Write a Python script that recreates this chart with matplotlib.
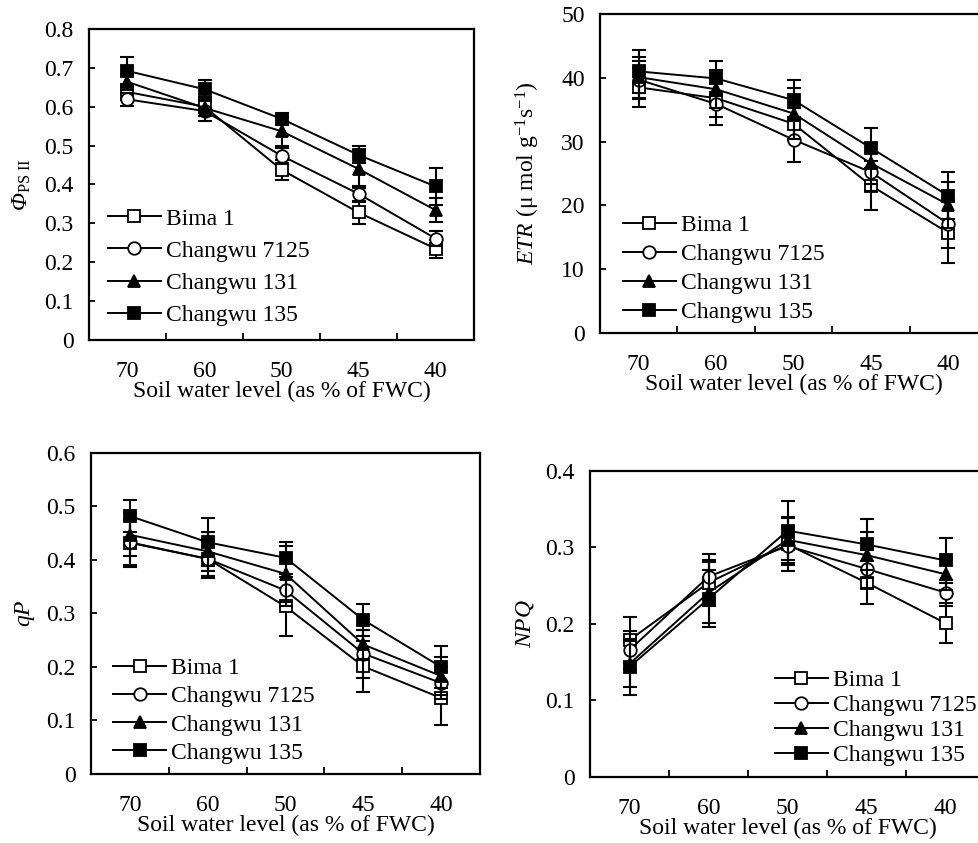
import matplotlib
matplotlib.use("Agg")
import matplotlib.pyplot as plt
from matplotlib.lines import Line2D

plt.rcParams["font.family"] = ["Liberation Serif", "DejaVu Serif"]
plt.rcParams["font.size"] = 17
# italic "rm" so the capital Phi comes out italic; "sf" used for upright sub/superscripts
plt.rcParams["mathtext.fontset"] = "custom"
plt.rcParams["mathtext.rm"] = "Liberation Serif:italic"
plt.rcParams["mathtext.it"] = "Liberation Serif:italic"
plt.rcParams["mathtext.sf"] = "Liberation Serif"

levels = ["70", "60", "50", "45", "40"]
varieties = ["Bima 1", "Changwu 7125", "Changwu 131", "Changwu 135"]
markers = ["s", "o", "^", "s"]
fills = ["white", "white", "black", "black"]

# Phi PSII
phi_vals = [
    [0.638, 0.600, 0.438, 0.328, 0.235],
    [0.619, 0.589, 0.474, 0.376, 0.261],
    [0.664, 0.597, 0.537, 0.440, 0.334],
    [0.692, 0.645, 0.569, 0.476, 0.395],
]
phi_err = [
    [0.020, 0.025, 0.026, 0.030, 0.023],
    [0.016, 0.025, 0.020, 0.020, 0.020],
    [0.020, 0.020, 0.037, 0.050, 0.030],
    [0.035, 0.025, 0.015, 0.022, 0.047],
]

# ETR
etr_vals = [
    [38.5, 36.8, 32.8, 23.1, 15.7],
    [39.7, 35.9, 30.3, 25.2, 17.1],
    [40.1, 38.2, 34.4, 26.6, 20.1],
    [41.0, 39.9, 36.5, 29.0, 21.5],
]
etr_err = [
    [3.1, 3.0, 2.5, 3.8, 4.8],
    [3.0, 3.3, 3.5, 3.0, 3.8],
    [3.2, 3.0, 4.0, 3.2, 3.6],
    [3.4, 2.8, 3.2, 3.1, 3.7],
]

# qP
qp_vals = [
    [0.432, 0.402, 0.313, 0.201, 0.142],
    [0.433, 0.402, 0.343, 0.225, 0.170],
    [0.447, 0.416, 0.374, 0.242, 0.183],
    [0.482, 0.433, 0.404, 0.288, 0.200],
]
qp_err = [
    [0.045, 0.035, 0.055, 0.048, 0.050],
    [0.042, 0.032, 0.030, 0.045, 0.030],
    [0.040, 0.036, 0.052, 0.028, 0.036],
    [0.030, 0.045, 0.030, 0.030, 0.040],
]

# NPQ
npq_vals = [
    [0.179, 0.254, 0.304, 0.254, 0.201],
    [0.166, 0.262, 0.302, 0.272, 0.241],
    [0.148, 0.241, 0.310, 0.290, 0.265],
    [0.144, 0.233, 0.322, 0.304, 0.283],
]
npq_err = [
    [0.030, 0.030, 0.035, 0.028, 0.026],
    [0.025, 0.030, 0.025, 0.025, 0.017],
    [0.030, 0.040, 0.030, 0.030, 0.020],
    [0.037, 0.037, 0.039, 0.033, 0.029],
]

panels = [
    dict(vals=phi_vals, err=phi_err, ymax=0.8, step=0.1, fmt="{:.1f}",
         ylabel=r"$\Phi_{\mathsf{PS\ II}}$",
         pos=[0.0909, 0.5967, 0.3933, 0.3689], lab_x=-0.145,
         leg=(0.049, 0.045), lsp=0.45),
    dict(vals=etr_vals, err=etr_err, ymax=50, step=10, fmt="{:.0f}",
         ylabel=r"$\mathit{ETR}$ (μ mol g$^{\mathsf{-1}}$s$^{\mathsf{-1}}$)",
         pos=[0.6129, 0.6050, 0.3953, 0.3784], lab_x=-0.15,
         leg=(0.059, 0.030), lsp=0.32),
    dict(vals=qp_vals, err=qp_err, ymax=0.6, step=0.1, fmt="{:.1f}",
         ylabel=r"$\mathit{qP}$",
         pos=[0.0930, 0.0819, 0.3973, 0.3808], lab_x=-0.14,
         leg=(0.057, 0.032), lsp=0.28),
    dict(vals=npq_vals, err=npq_err, ymax=0.4, step=0.1, fmt="{:.1f}",
         ylabel=r"$\mathit{NPQ}$",
         pos=[0.6027, 0.0783, 0.4035, 0.3630], lab_x=-0.137,
         leg=(0.468, 0.035), lsp=0.15),
]

fig = plt.figure(figsize=(9.79, 8.43), dpi=100)
x = list(range(len(levels)))

for p in panels:
    ax = fig.add_axes(p["pos"])
    handles = []
    for i, name in enumerate(varieties):
        ax.errorbar(x, p["vals"][i], yerr=p["err"][i], fmt="none",
                    ecolor="black", elinewidth=1.5, capsize=5, capthick=1.5)
        ax.plot(x, p["vals"][i], color="black", linewidth=1.4,
                marker=markers[i], markerfacecolor=fills[i],
                markeredgecolor="black", markersize=9, markeredgewidth=1.3)
        handles.append(Line2D([], [], color="black", linewidth=1.4,
                              marker=markers[i], markerfacecolor=fills[i],
                              markeredgecolor="black", markersize=9,
                              markeredgewidth=1.3, label=name))
    ax.set_xlim(-0.5, 4.5)
    ax.set_ylim(0, p["ymax"])
    n = int(round(p["ymax"] / p["step"]))
    yt = [k * p["step"] for k in range(n + 1)]
    ax.set_yticks(yt, ["0"] + [p["fmt"].format(v) for v in yt[1:]])
    ax.set_xticks(x, levels)
    ax.set_xticks([0.5, 1.5, 2.5, 3.5], minor=True)
    ax.tick_params(axis="x", which="major", length=0, pad=15)
    ax.tick_params(axis="x", which="minor", direction="in", length=5, width=1.3)
    ax.tick_params(axis="y", direction="in", length=4, width=1.3, pad=11)
    for s in ax.spines.values():
        s.set_linewidth(1.6)
    ax.set_xlabel("Soil water level (as % of FWC)", labelpad=-1)
    ax.set_ylabel(p["ylabel"])
    ax.yaxis.set_label_coords(p["lab_x"], 0.5)
    ax.legend(handles=handles, loc="lower left", bbox_to_anchor=p["leg"],
              frameon=False, borderpad=0, borderaxespad=0, handlelength=2.25,
              handletextpad=0.2, labelspacing=p["lsp"])

fig.savefig("out.png", dpi=100)
